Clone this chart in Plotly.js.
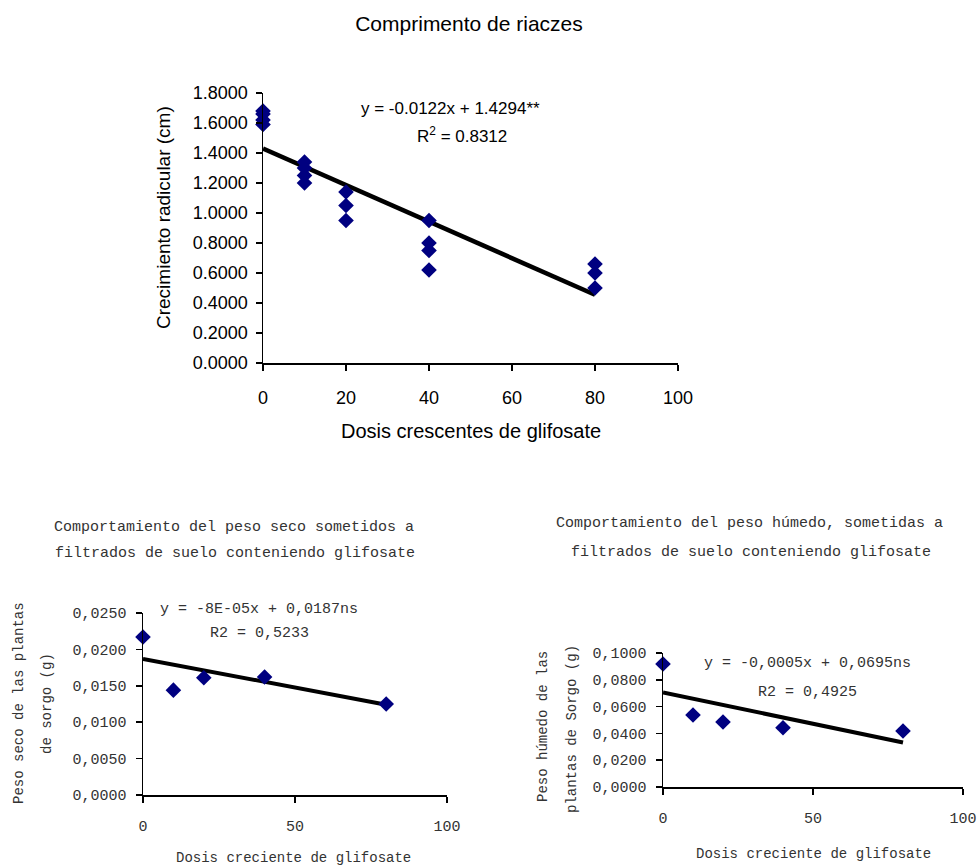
<!DOCTYPE html>
<html>
<head>
<meta charset="utf-8">
<script src="https://cdn.plot.ly/plotly-3.0.1.min.js"></script>
<style>html,body{margin:0;padding:0;background:#fff;}#chart{width:980px;height:868px;}</style>
</head>
<body>
<div id="chart"></div>
<script>
// ---- Top chart: Comprimento de raíces ----
var topDose = [0, 0, 0, 0, 10, 10, 10, 10, 20, 20, 20, 40, 40, 40, 40, 80, 80, 80];
var topRoot = [1.68, 1.66, 1.62, 1.59, 1.34, 1.30, 1.25, 1.20, 1.14, 1.05, 0.95, 0.95, 0.80, 0.75, 0.62, 0.66, 0.60, 0.50];
var topTrendX = [0, 80];
var topTrendY = [1.43, 0.455];
var topYTicks = [0, 0.2, 0.4, 0.6, 0.8, 1.0, 1.2, 1.4, 1.6, 1.8];
var topYLabels = ["0.0000", "0.2000", "0.4000", "0.6000", "0.8000", "1.0000", "1.2000", "1.4000", "1.6000", "1.8000"];
var topXTicks = [0, 20, 40, 60, 80, 100];

// ---- Bottom left: peso seco ----
var blDose = [0, 10, 20, 40, 80];
var blDry = [0.0217, 0.0144, 0.0161, 0.0162, 0.0125];
var blTrendX = [0, 80];
var blTrendY = [0.0187, 0.0124];
var blYTicks = [0, 0.005, 0.010, 0.015, 0.020, 0.025];
var blYLabels = ["0,0000", "0,0050", "0,0100", "0,0150", "0,0200", "0,0250"];

// ---- Bottom right: peso húmedo ----
var brDose = [0, 10, 20, 40, 80];
var brWet = [0.0918, 0.0537, 0.0485, 0.0442, 0.0418];
var brTrendX = [0, 80];
var brTrendY = [0.0705, 0.0332];
var brYTicks = [0, 0.02, 0.04, 0.06, 0.08, 0.10];
var brYLabels = ["0,0000", "0,0200", "0,0400", "0,0600", "0,0800", "0,1000"];

var bottomXTicks = [0, 50, 100];

var W = 980, H = 868;
function px(x) { return x / W; }
function py(y) { return 1 - y / H; }

var navy = '#000080';
var sans = 'Liberation Sans, Arial, sans-serif';
var mono = 'Liberation Mono, Courier New, monospace';

var traces = [
  {x: topTrendX, y: topTrendY, xaxis: 'x', yaxis: 'y', mode: 'lines', line: {color: '#000', width: 4.5}, hoverinfo: 'skip', cliponaxis: false},
  {x: topDose, y: topRoot, xaxis: 'x', yaxis: 'y', mode: 'markers', marker: {symbol: 'diamond', size: 12, color: navy}, cliponaxis: false},
  {x: blTrendX, y: blTrendY, xaxis: 'x2', yaxis: 'y2', mode: 'lines', line: {color: '#000', width: 4}, hoverinfo: 'skip', cliponaxis: false},
  {x: blDose, y: blDry, xaxis: 'x2', yaxis: 'y2', mode: 'markers', marker: {symbol: 'diamond', size: 12, color: navy}, cliponaxis: false},
  {x: brTrendX, y: brTrendY, xaxis: 'x3', yaxis: 'y3', mode: 'lines', line: {color: '#000', width: 4}, hoverinfo: 'skip', cliponaxis: false},
  {x: brDose, y: brWet, xaxis: 'x3', yaxis: 'y3', mode: 'markers', marker: {symbol: 'diamond', size: 12, color: navy}, cliponaxis: false}
];

function axBase(extra) {
  var a = {showgrid: false, zeroline: false, showline: true, linecolor: '#000', linewidth: 1.5,
           ticks: 'outside', ticklen: 6, tickwidth: 1.5, tickcolor: '#000', fixedrange: true};
  for (var k in extra) a[k] = extra[k];
  return a;
}

var layout = {
  width: W, height: H,
  margin: {l: 0, r: 0, t: 0, b: 0},
  paper_bgcolor: '#fff', plot_bgcolor: 'rgba(0,0,0,0)',
  showlegend: false,
  title: {text: 'Comprimento de riaczes', font: {family: sans, size: 21, color: '#000'},
          x: px(469), y: py(24), xanchor: 'center', yanchor: 'middle', xref: 'paper', yref: 'container'},
  xaxis: axBase({domain: [px(263), px(678)], range: [0, 100], anchor: 'y', tickvals: topXTicks,
                 tickfont: {family: sans, size: 18, color: '#000'}, ticklabelstandoff: 12}),
  yaxis: axBase({domain: [py(363), py(93)], range: [0, 1.8], anchor: 'x', tickvals: topYTicks, ticktext: topYLabels,
                 tickfont: {family: sans, size: 18, color: '#000'}, ticklabelstandoff: 4}),
  xaxis2: axBase({domain: [px(143), px(447)], range: [0, 100], anchor: 'y2', tickvals: bottomXTicks,
                  tickfont: {family: mono, size: 15, color: '#333'}, ticklabelstandoff: 10, ticklen: 6}),
  yaxis2: axBase({domain: [py(795), py(613)], range: [0, 0.025], anchor: 'x2', tickvals: blYTicks, ticktext: blYLabels,
                  tickfont: {family: mono, size: 15, color: '#333'}, ticklabelstandoff: 6, ticklen: 6}),
  xaxis3: axBase({domain: [px(663), px(963)], range: [0, 100], anchor: 'y3', tickvals: bottomXTicks,
                  tickfont: {family: mono, size: 15, color: '#333'}, ticklabelstandoff: 10, ticklen: 6}),
  yaxis3: axBase({domain: [py(787), py(653)], range: [0, 0.1], anchor: 'x3', tickvals: brYTicks, ticktext: brYLabels,
                  tickfont: {family: mono, size: 15, color: '#333'}, ticklabelstandoff: 6, ticklen: 6}),
  annotations: []
};

function ann(text, x, y, font, angle) {
  layout.annotations.push({text: text, x: px(x), y: py(y), xref: 'paper', yref: 'paper',
    xanchor: 'center', yanchor: 'middle', showarrow: false, font: font, textangle: angle || 0});
}
var fTopT = {family: sans, size: 19, color: '#000'};
var fTopSmall = {family: sans, size: 17, color: '#000'};
var fMono = {family: mono, size: 15, color: '#333'};
var fMonoT = {family: mono, size: 14, color: '#333'};

// top chart texts
ann('Dosis crescentes de glifosate', 471, 431, {family: sans, size: 20, color: '#000'});
ann('Crecimiento radicular (cm)', 164, 218, fTopT, -90);
ann('y = -0.0122x + 1.4294**', 450, 108, fTopSmall);
ann('R<sup>2</sup> = 0.8312', 462, 135, fTopSmall);

// bottom left texts
ann('Comportamiento del peso seco sometidos a', 234, 527, fMono);
ann('filtrados de suelo conteniendo glifosate', 235, 553, fMono);
ann('Peso seco de las plantas', 19, 703, fMonoT, -90);
ann('de sorgo (g)', 47, 704, fMonoT, -90);
ann('Dosis creciente de glifosate', 293, 858, fMonoT);
ann('y = -8E-05x + 0,0187ns', 259, 609, fMono);
ann('R2 = 0,5233', 259, 633, fMono);

// bottom right texts
ann('Comportamiento del peso húmedo, sometidas a', 749, 523, fMono);
ann('filtrados de suelo conteniendo glifosate', 751, 552, fMono);
ann('Peso húmedo de las', 543, 727, fMonoT, -90);
ann('plantas de Sorgo (g)', 572, 729, fMonoT, -90);
ann('Dosis creciente de glifosate', 813, 854, fMonoT);
ann('y = -0,0005x + 0,0695ns', 807, 663, fMono);
ann('R2 = 0,4925', 807, 692, fMono);

Plotly.newPlot('chart', traces, layout, {displayModeBar: false, staticPlot: true});
</script>
</body>
</html>
